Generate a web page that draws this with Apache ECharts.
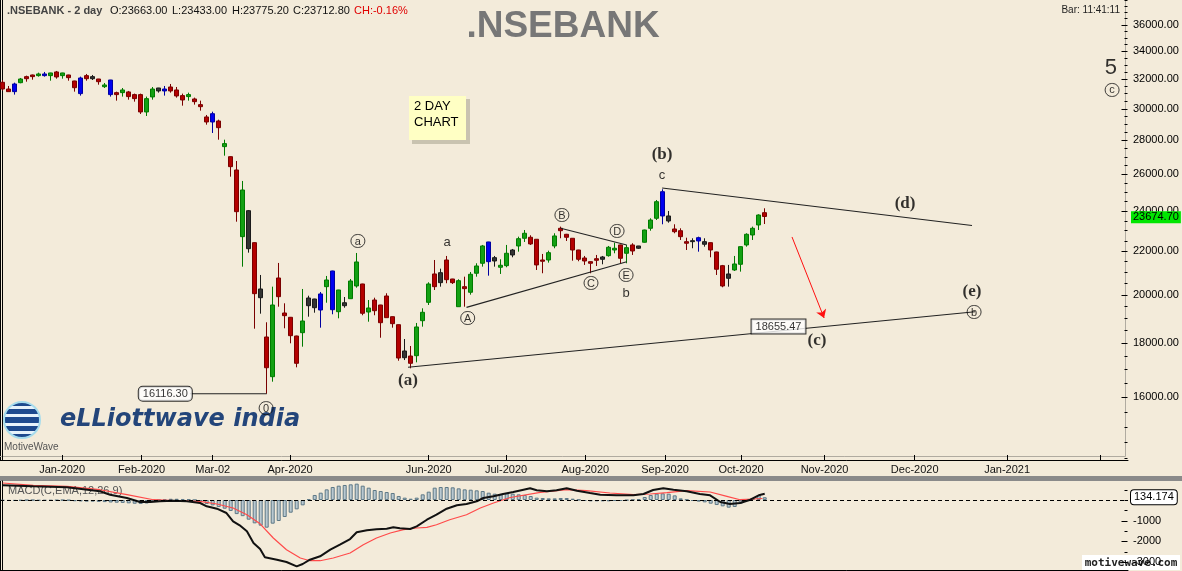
<!DOCTYPE html>
<html><head><meta charset="utf-8">
<script src="https://cdn.jsdelivr.net/npm/echarts@6/dist/echarts.min.js"></script>
<style>html,body{margin:0;padding:0;background:#f3ebda}#c{width:1182px;height:571px}</style>
</head><body><div id="c"></div>
<script>
// ---- DATA ----
// 2-day candles [open, close, low, high], bar index = position in array
const candles = [
[31764,31302,31190,31923],[31302,31123,31123,31509],[31123,31647,30922,31737],[31737,31993,31695,32063],[32157,32014,31806,32227],
[32274,32157,31944,32300],[32227,32345,32157,32438],[32227,32345,32157,32487],[32227,32417,31875,32430],[32487,32134,32014,32557],
[32227,32417,32014,32430],[32274,32085,31875,32290],[31854,31392,31123,31870],[32063,30989,30855,32157],[32227,32014,31875,32345],
[32157,32014,31923,32274],[31993,31806,31599,32000],[31461,31579,31371,31716],[31923,30922,30788,31930],[31056,30922,30518,31123],
[31056,31237,30788,31371],[31103,30788,30584,31170],[30922,30653,30452,30989],[30922,29775,29645,30989],[29775,30653,29515,30788],
[30765,31302,30584,31440],[31371,31170,31056,31380],[31302,31170,30855,31509],[31440,31170,31056,31647],[31237,30832,30720,31440],
[30855,30564,30187,30989],[30788,30922,30518,31056],[30631,30452,30254,30720],[30254,30121,29860,30518],[29453,29133,28963,29580],
[29664,29133,28443,29794],[29196,28774,28031,29279],[27610,27791,27071,28031],[27012,26431,25861,27030],[26240,23962,23444,26760],
[22692,25121,21256,25620],[24014,22106,21915,24050],[22398,20042,18570,22420],[20248,19867,19187,20875],[18237,17056,16116,18831],
[16726,19554,16545,20350],[20739,19911,19481,21429],[19216,19104,18586,19626],[19037,18289,17988,19050],[18277,17221,17071,18290],
[18409,18884,17856,20248],[19854,19524,19062,19954],[19811,19439,19228,19820],[19341,20029,18611,20116],[20350,20648,19651,20830],
[21058,19354,19162,21070],[19270,20203,18995,20210],[19651,19524,19439,19897],[19824,20603,19820,20693],[20381,21475,20306,21900],
[20470,19204,19121,20480],[19258,19426,18855,19767],[19767,19312,19121,19867],[19554,18814,18208,19560],[19941,19021,19015,20060],
[19062,18774,18611,19070],[18733,17420,17318,18740],[17689,17432,17344,18157],[17497,17221,17034,17883],[17509,18640,17258,18803],
[18896,19245,18652,19413],[19668,20470,19554,20546],[20921,20350,20203,21568],[20528,20980,20350,21164],[21568,20662,20501,21758],
[20693,20528,20470,20700],[19481,20617,19475,20680],[20350,20262,19481,20798],[20103,20907,19998,21012],[20953,21288,20798,21414],
[21414,22237,21257,22286],[22432,21489,20843,22440],[21677,21521,21257,21758],[21228,21321,20921,21601],[21303,21886,21228,22286],
[22043,21805,21696,22092],[22237,22593,21962,22692],[22613,22860,22432,23024],[22662,22335,22286,22761],[22564,21337,21103,22570],
[21568,21508,20953,21853],[21568,21915,21443,22010],[22237,22727,22126,22860],[23110,22989,22613,23194],[22810,22662,22480,22830],
[22613,22043,21535,22620],[22043,21601,21508,22050],[21662,21521,21337,21758],[21489,21414,20953,21500],[21629,21554,21288,21805],
[21601,21710,21367,21758],[21772,22174,21725,22237],[22043,22126,21886,22398],[22286,21648,21414,22300],[21886,22155,21414,22286],
[22286,21995,21805,22369],[22126,22237,22092,22240],[22417,23024,22400,23040],[23110,23531,22989,23619],[23619,24489,23531,24579],
[23739,25028,23312,25160],[23739,23480,23394,23998],[23075,22939,22860,23312],[22989,22692,22529,23110],[22446,22369,22043,22642],
[22446,22495,22126,22613],[22480,22642,21962,22692],[22446,22320,22203,22613],[22398,22043,21696,22410],[21948,21136,20875,21960],
[21303,20381,20323,21337],[20725,20921,20350,21337],[21103,21381,21058,21758],[21367,22203,21027,22210],[22286,22810,22203,22860],
[22776,23110,22529,23194],[23278,23788,23024,23824],[23910,23713,23326,24139]
];
// candle colour class: g=green r=red b=blue k=black
const candleKinds = ('rrbgrrgbgr'+'grrbrkrgbr'+'grrrggkbrr'+'rgrrrbrgrr'+'gkrkrgrrrr'+'gkkbgbgkgg'+
  'rgrrrrrkrg'+'ggrkrrgrgg'+'gbkggkggrr'+'rggrrrrrrr'+'kggrgrkggg'+'bkrrrkbkrr'+'rkgggggr').split('');

const currentPrice = 23674.70;
const macdLast = 134.174;

// MACD histogram per bar
const histogram = [
-30,-40,-40,-30,-10,-10,-30,-30,-30,-20,
-10,-20,-60,-70,-80,-80,-90,-100,-120,-130,
-140,-160,-180,-190,-170,-80,0,40,60,60,
50,30,0,-60,-190,-260,-340,-420,-530,-680,
-780,-950,-1127,-1240,-1336,-1143,-1014,-821,-612,-451,
-258,32,242,354,515,628,692,725,757,789,
692,596,483,435,386,338,193,113,64,113,
274,403,596,628,628,612,564,515,499,467,
435,354,306,274,320,306,274,242,193,113,
97,80,80,97,97,64,16,-48,-64,-64,
-64,-64,-48,-48,-16,16,48,145,242,306,
322,306,225,80,16,-48,-80,-113,-177,-242,
-306,-370,-338,-177,-16,80,242,134
];
// MACD line [bar index, value]
const macdLine = [[0,710],[5.1,662],[10.7,613],[16.2,420],[17.9,256],[20.7,97],[22.9,-97],[24.6,-97],[26.2,-63],[28.4,-34],
[30.7,-63],[32.9,-145],[34,-304],[35.7,-420],[37.3,-628],[38.4,-1029],[39.5,-1222],[40.7,-1512],[41.8,-2077],[42.9,-2367],
[43.7,-2768],[45.7,-2884],[47.3,-2995],[49,-3202],[50,-3091],[51.2,-2884],[52.9,-2719],[54.6,-2400],[56.2,-2159],[57.9,-1884],
[59,-1560],[60.7,-1463],[62.3,-1415],[64,-1386],[65.1,-1319],[66.2,-1367],[67.9,-1401],[69,-1270],[70.7,-952],[72.3,-710],
[74,-420],[75.7,-256],[77.3,-193],[79,-63],[80.1,97],[81.8,179],[83.4,290],[85.1,386],[86.8,497],[87.9,565],[89,469],
[90.7,420],[92.3,469],[94,565],[95.7,449],[97.9,338],[99.6,256],[102.3,227],[105.1,227],[106.8,290],[108.4,483],[110.1,565],
[111.8,497],[114,420],[116.2,290],[117.9,227],[119.6,-97],[121.2,-193],[122.9,-145],[124.6,14],[126,227],[127,300]];
// signal line [bar index, value]
const signalLine = [[0,821],[5.1,710],[10.7,662],[16.2,497],[20.7,256],[25.1,14],[28.4,-34],[32.9,-63],[35.7,-193],[38.4,-386],
[40.7,-710],[42.9,-1150],[45.1,-1835],[47.3,-2400],[49.6,-2801],[51.2,-2932],[52.9,-2932],[55.1,-2801],[57.9,-2560],[60.1,-2159],
[62.3,-1835],[64.6,-1594],[66.8,-1434],[69,-1352],[70.7,-1319],[72.3,-1193],[74.5,-952],[77.3,-710],[79.6,-386],[81.8,-145],
[84.6,120],[89.6,372],[94,497],[97.3,449],[101.2,338],[105.1,256],[107.9,290],[110.7,353],[114,449],[117.9,386],[120.7,179],
[122.9,14],[125.1,48],[126.6,72]];

// axis ticks / labels
const priceTicks = [16000,18000,20000,22000,24000,26000,28000,30000,32000,34000,36000];
const macdTicks = [-1000,-2000,-3000];
const monthTickPos = [9.9,23.15,35.0,47.9,71.0,83.9,97.1,110.4,123.05,136.97,152.0,167.4,182.9];
const monthTickLabels = ['Jan-2020','Feb-2020','Mar-02','Apr-2020','Jun-2020','Jul-2020','Aug-2020','Sep-2020','Oct-2020','Nov-2020','Dec-2020','Jan-2021',''];

// drawn trendlines [[bar, price],[bar, price]]
const trendLines = [
 [[67.55,17075],[162.05,19270]],
 [[109.9,25230],[161.55,23250]],
 [[77.3,19453],[104,21489]],
 [[93,23110],[104,22286]],
 [[31.2,16116],[44,16116]]
];
const projectionArrow = [[131.55,22677],[136.9,19007]];

// wave labels [bar, price, text]
const circledLabels = [[59.2,22480,'a'],[77.5,19007,'A'],[93.2,23788,'B'],[98.05,20514,'C'],[102.4,22975,'D'],
 [103.9,20875,'E'],[161.9,19258,'b'],[43.9,15620,'0'],[184.9,31237,'c']];
const plainLabels = [[74.05,22432,'a'],[103.9,20073,'b'],[109.9,25955,'c']];
const degreeLabels = [[67.55,16570,'(a)'],[109.9,27112,'(b)'],[135.7,18078,'(c)'],[150.4,24367,'(d)'],[161.55,20116,'(e)']];
const bigLabels = [[184.7,32766,'5']];
const priceBoxes = [[27.1,16116,'16116.30',4],[129.3,18655,'18655.47',0]];

// ---- CHART ----
const kindFill = {g:'#13a013', r:'#b30000', b:'#0000f0', k:'#333333'};
const kindLine = {g:'#007a00', r:'#7a0000', b:'#0000a0', k:'#1a1a1a'};
const FONT = '"Liberation Sans", Arial, sans-serif';
const CLEAR = 'rgba(0,0,0,0)';

const candleData = candles.map((r, i) => {
  const k = candleKinds[i] || 'k';
  return {value: [i, r[0], r[1], r[2], r[3]],
    itemStyle: {color: kindFill[k], color0: kindFill[k], borderColor: kindLine[k], borderColor0: kindLine[k], borderColorDoji: kindLine[k]}};
});
const xMin = -0.45, xMax = 187.55;
const monthFmt = v => { const k = monthTickPos.findIndex(p => Math.abs(p - v) < 0.01); return k >= 0 ? monthTickLabels[k] : ''; };
const priceTickMarks = []; for (let v = 14000; v <= 38000; v += 500) priceTickMarks.push(v);
const macdTickMarks = []; for (let v = -3000; v <= 500; v += 500) macdTickMarks.push(v);

const labelSeries = (arr, label) => ({
  type: 'scatter', xAxisIndex: 0, yAxisIndex: 0, symbolSize: 1, silent: true, z: 5,
  itemStyle: {color: CLEAR},
  label: Object.assign({show: true, position: 'inside', formatter: '{b}', color: '#000', fontFamily: FONT}, label),
  data: arr.map(a => ({name: a[2], value: [a[0], a[1]]}))
});
// short tick marks on the right value axes, placed through the axis scale
const tickSeries = (xi, yi, marks, majors) => ({
  type: 'custom', xAxisIndex: xi, yAxisIndex: yi, silent: true, clip: false, z: 6,
  data: marks.map(v => [xMax, v]),
  renderItem: (params, api) => {
    const v = api.value(1);
    const p = api.coord([xMax, v]);
    const len = majors.indexOf(v) >= 0 ? 6 : 3;
    return {type: 'line', shape: {x1: p[0] - 0.5, y1: Math.round(p[1]) + 0.5, x2: p[0] - 0.5 - len, y2: Math.round(p[1]) + 0.5},
      style: {stroke: '#000', lineWidth: 1}};
  }
});

const series = [
  {type: 'candlestick', xAxisIndex: 0, yAxisIndex: 0, barWidth: 5, data: candleData, z: 3,
   markLine: {symbol: ['none','none'], silent: true, animation: false,
     lineStyle: {color: CLEAR, width: 1, type: 'solid'},
     label: {show: true, position: 'end', distance: 3, formatter: currentPrice.toFixed(2), backgroundColor: '#00e600', color: '#000',
       padding: [1,2,0,2], fontSize: 11, fontFamily: FONT},
     data: [{yAxis: currentPrice}]}},
  tickSeries(0, 0, priceTickMarks, priceTicks)
];
trendLines.forEach(seg => series.push({type: 'line', xAxisIndex: 0, yAxisIndex: 0, data: seg, symbol: 'none', silent: true,
  lineStyle: {color: '#222', width: 1.1}, z: 4}));
series.push({type: 'lines', coordinateSystem: 'cartesian2d', xAxisIndex: 0, yAxisIndex: 0, symbol: ['none','arrow'], symbolSize: 8,
  silent: true, lineStyle: {color: '#ff1010', width: 1, opacity: 1}, data: [{coords: projectionArrow}], z: 4});
series.push(labelSeries(circledLabels, {formatter: '{c|{b}}',
  rich: {c: {width: 12, height: 12, lineHeight: 13, padding: [1,1,0,1], align: 'center', borderColor: '#111', borderWidth: 1,
    borderRadius: 7, fontSize: 11, color: '#000', fontFamily: FONT}}}));
series.push(labelSeries(plainLabels, {fontSize: 13}));
series.push(labelSeries(degreeLabels, {fontSize: 17, fontWeight: 'bold', fontFamily: '"Liberation Serif", "DejaVu Serif", serif'}));
series.push(labelSeries(bigLabels, {fontSize: 22}));
priceBoxes.forEach(b => series.push(labelSeries([b], {fontSize: 11, backgroundColor: '#fff', borderColor: '#000', borderWidth: 1,
  borderRadius: b[3], padding: [2,4,1,4]})));

series.push({type: 'bar', xAxisIndex: 1, yAxisIndex: 1, barWidth: 4, silent: true,
  data: histogram.map((v, i) => [i, v]),
  itemStyle: {color: '#b9c9d1', borderColor: '#5d7886', borderWidth: 1},
  markLine: {symbol: ['none','none'], silent: true, animation: false,
    data: [
      {yAxis: 0, lineStyle: {type: [4,3], color: '#000', width: 1}, label: {show: false}},
      {yAxis: macdLast, lineStyle: {color: CLEAR, width: 1, type: 'solid'}, label: {show: true, position: 'end', distance: 3, formatter: String(macdLast),
        backgroundColor: '#fff', borderColor: '#000', borderWidth: 1, borderRadius: 3, padding: [2,3,1,3], fontSize: 11, color: '#000', fontFamily: FONT}}
    ]}});
series.push({type: 'line', xAxisIndex: 1, yAxisIndex: 1, data: signalLine, symbol: 'none', silent: true,
  lineStyle: {color: '#ff4a4a', width: 1.2}, z: 3});
series.push({type: 'line', xAxisIndex: 1, yAxisIndex: 1, data: macdLine, symbol: 'none', silent: true,
  lineStyle: {color: '#111', width: 2}, z: 4});
series.push(tickSeries(1, 1, macdTickMarks, macdTicks));

const stripeStops = [];
[[0,0.13,'#1d4a8e'],[0.13,0.21,'#e6f2fa'],[0.21,0.35,'#1d4a8e'],[0.35,0.43,'#e6f2fa'],[0.43,0.57,'#1d4a8e'],
 [0.57,0.65,'#e6f2fa'],[0.65,0.79,'#1d4a8e'],[0.79,0.87,'#e6f2fa'],[0.87,1,'#1d4a8e']].forEach(s => {
  stripeStops.push({offset: s[0], color: s[2]}, {offset: s[1], color: s[2]});
});

const option = {
  animation: false,
  backgroundColor: '#f3ebda',
  textStyle: {fontFamily: FONT},
  grid: [
    {left: 0, top: 0, width: 1128, height: 460, outerBoundsMode: 'none', containLabel: false},
    {left: 0, top: 481, width: 1128, height: 89, outerBoundsMode: 'none', containLabel: false}
  ],
  xAxis: [
    {type: 'value', gridIndex: 0, min: xMin, max: xMax, splitLine: {show: false},
     axisLine: {show: true, onZero: false, lineStyle: {color: '#000', width: 1}},
     axisTick: {show: true, inside: true, length: 5, customValues: monthTickPos, lineStyle: {color: '#000'}},
     axisLabel: {show: true, customValues: monthTickPos, formatter: monthFmt, color: '#111', fontSize: 11, margin: 4, fontFamily: FONT}},
    {type: 'value', gridIndex: 1, min: xMin, max: xMax, splitLine: {show: false},
     axisLine: {show: true, onZero: false, lineStyle: {color: '#000', width: 1}},
     axisTick: {show: false}, axisLabel: {show: false}}
  ],
  yAxis: [
    {type: 'log', logBase: 10, gridIndex: 0, position: 'right', min: 13950, max: 38000, splitLine: {show: false}, minorTick: {show: false},
     axisLine: {show: true, lineStyle: {color: '#000', width: 1}},
     axisTick: {show: false},
     axisLabel: {show: true, customValues: priceTicks, formatter: v => Number(v).toFixed(2), color: '#000', fontSize: 11, margin: 5, fontFamily: FONT}},
    {type: 'value', gridIndex: 1, position: 'right', min: -3380, max: 918, splitLine: {show: false},
     axisLine: {show: true, lineStyle: {color: '#000', width: 1}},
     axisTick: {show: false},
     axisLabel: {show: true, customValues: macdTicks, formatter: v => String(v), color: '#000', fontSize: 11, margin: 5, fontFamily: FONT}}
  ],
  graphic: [
    {type: 'line', shape: {x1: 0.5, y1: 0, x2: 0.5, y2: 460}, style: {stroke: '#000', lineWidth: 1}, silent: true},
    {type: 'line', shape: {x1: 0, y1: 456.5, x2: 1125.5, y2: 456.5}, style: {stroke: '#b0aba0', lineWidth: 1}, silent: true},
    {type: 'line', shape: {x1: 1125.5, y1: 0, x2: 1125.5, y2: 456.5}, style: {stroke: '#b0aba0', lineWidth: 1}, silent: true},
    {type: 'rect', shape: {x: 0, y: 476, width: 1182, height: 5}, style: {fill: '#8a8a8a'}, silent: true},
    {type: 'line', shape: {x1: 0.5, y1: 481, x2: 0.5, y2: 570}, style: {stroke: '#000', lineWidth: 1}, silent: true},
    {type: 'text', x: 7, y: 11, silent: true, style: {text: '.NSEBANK - 2 day', fill: '#444', font: 'bold 11px ' + FONT, verticalAlign: 'middle'}},
    {type: 'text', x: 110, y: 11, silent: true, style: {text: 'O:23663.00', fill: '#111', font: '11px ' + FONT, verticalAlign: 'middle'}},
    {type: 'text', x: 172, y: 11, silent: true, style: {text: 'L:23433.00', fill: '#111', font: '11px ' + FONT, verticalAlign: 'middle'}},
    {type: 'text', x: 232, y: 11, silent: true, style: {text: 'H:23775.20', fill: '#111', font: '11px ' + FONT, verticalAlign: 'middle'}},
    {type: 'text', x: 293, y: 11, silent: true, style: {text: 'C:23712.80', fill: '#111', font: '11px ' + FONT, verticalAlign: 'middle'}},
    {type: 'text', x: 354, y: 11, silent: true, style: {text: 'CH:-0.16%', fill: '#e00000', font: '11px ' + FONT, verticalAlign: 'middle'}},
    {type: 'text', x: 1120, y: 10, silent: true, style: {text: 'Bar: 11:41:11', fill: '#222', font: '10px ' + FONT, align: 'right', verticalAlign: 'middle'}},
    {type: 'text', x: 563, y: 27, silent: true, style: {text: '.NSEBANK', fill: '#777', font: 'bold 37px ' + FONT, align: 'center', verticalAlign: 'middle'}},
    {type: 'rect', shape: {x: 412, y: 99, width: 58, height: 45}, style: {fill: '#c9c3b0'}, silent: true},
    {type: 'rect', shape: {x: 409, y: 96, width: 57, height: 44}, style: {fill: '#ffffc4'}, silent: true},
    {type: 'text', x: 414, y: 106, silent: true, style: {text: '2 DAY', fill: '#000', font: '13px ' + FONT, verticalAlign: 'middle'}},
    {type: 'text', x: 414, y: 122, silent: true, style: {text: 'CHART', fill: '#000', font: '13px ' + FONT, verticalAlign: 'middle'}},
    {type: 'circle', shape: {cx: 22, cy: 420, r: 18}, silent: true,
     style: {fill: {type: 'linear', x: 0, y: 0, x2: 0, y2: 1, colorStops: stripeStops}, stroke: '#a6dcec', lineWidth: 2}},
    {type: 'text', x: 4, y: 447, silent: true, style: {text: 'MotiveWave', fill: '#555', font: '10px ' + FONT, verticalAlign: 'middle'}},
    {type: 'text', x: 60, y: 420, silent: true, style: {text: 'eLLiottwave india', fill: '#23457a', font: 'italic bold 24px "DejaVu Sans", sans-serif', verticalAlign: 'middle'}},
    {type: 'text', x: 8, y: 491, silent: true, style: {text: 'MACD(C,EMA,12,26,9)', fill: '#555', font: '11px ' + FONT, verticalAlign: 'middle'}},
    {type: 'rect', shape: {x: 1082, y: 555, width: 98, height: 15}, style: {fill: '#fff'}, silent: true},
    {type: 'text', x: 1131, y: 563, silent: true, style: {text: 'motivewave.com', fill: '#222', font: 'bold 11px "DejaVu Sans Mono", monospace', align: 'center', verticalAlign: 'middle'}}
  ],
  series: series
};
const chart = echarts.init(document.getElementById('c'), null, {renderer: 'canvas'});
chart.setOption(option);
</script></body></html>
